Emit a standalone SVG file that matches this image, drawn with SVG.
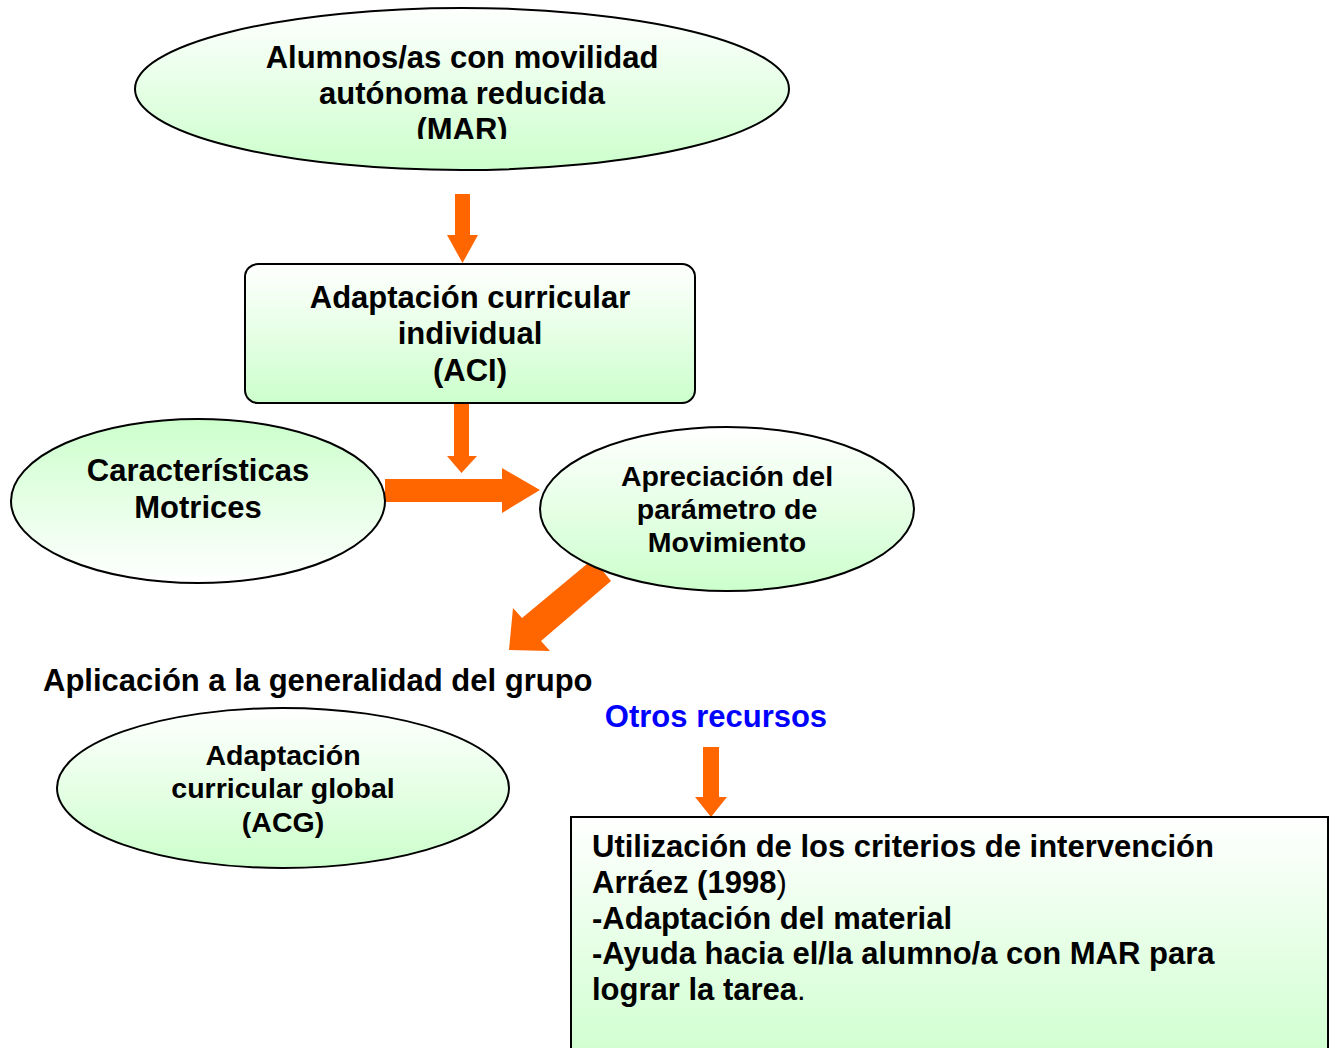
<svg xmlns="http://www.w3.org/2000/svg" width="1336" height="1048" viewBox="0 0 1336 1048">
<defs>
<linearGradient id="gDown" x1="0" y1="0" x2="0" y2="1"><stop offset="0" stop-color="#ffffff"/><stop offset="1" stop-color="#ccffcc"/></linearGradient>
<linearGradient id="gUp" x1="0" y1="0" x2="0" y2="1"><stop offset="0" stop-color="#ccffcc"/><stop offset="1" stop-color="#ffffff"/></linearGradient>
<clipPath id="clipTop"><rect x="130" y="0" width="670" height="139"/></clipPath>
</defs>
<style>
.shape{stroke:#000;stroke-width:2}
.t{font-family:"Liberation Sans",Arial,sans-serif;font-weight:bold;fill:#000}
.c{text-anchor:middle}
.big{font-size:31px}
.mid{font-size:28.5px}
.arrow{fill:#ff6600}
</style>
<rect width="1336" height="1048" fill="#fff"/>
<g id="connectors">
<polygon class="arrow" points="455,194 470,194 470,235 478,235 462.5,263 447,235 455,235"/>
<polygon class="arrow" points="454,404 469,404 469,456 477,456 461.5,473 447,456 454,456"/>
<polygon class="arrow" points="385,479 502,479 502,468 540,490 502,513 502,502 385,502"/>
<polygon class="arrow" points="593,559 522,618 513,608 509,650 550,651 541,641 611,581"/>
<polygon class="arrow" points="703,747 719,747 719,797 727,797 711,817 695,797 703,797"/>
</g>
<g id="node-mar">
<ellipse class="shape" cx="462" cy="89" rx="327" ry="81" fill="url(#gDown)"/>
<g clip-path="url(#clipTop)">
<text class="t c big" x="462" y="68">Alumnos/as con movilidad</text>
<text class="t c big" x="462" y="104">autónoma reducida</text>
<text class="t c big" x="462" y="140">(MAR)</text>
</g>
</g>
<g id="node-aci">
<rect class="shape" x="245" y="264" width="450" height="139" rx="13" fill="url(#gDown)"/>
<text class="t c big" x="470" y="308">Adaptación curricular</text>
<text class="t c big" x="470" y="344">individual</text>
<text class="t c big" x="470" y="381">(ACI)</text>
</g>
<g id="node-caracteristicas">
<ellipse class="shape" cx="198" cy="501" rx="187" ry="82" fill="url(#gUp)"/>
<text class="t c big" x="198" y="481">Características</text>
<text class="t c big" x="198" y="518">Motrices</text>
</g>
<g id="node-apreciacion">
<ellipse class="shape" cx="727" cy="509" rx="187" ry="82" fill="url(#gDown)"/>
<text class="t c mid" x="727" y="486">Apreciación del</text>
<text class="t c mid" x="727" y="519">parámetro de</text>
<text class="t c mid" x="727" y="552">Movimiento</text>
</g>
<g id="node-aplicacion">
<text class="t big" x="43" y="691">Aplicación a la generalidad del grupo</text>
</g>
<g id="node-otros">
<text class="t c big" x="716" y="727" style="fill:#0000ff">Otros recursos</text>
</g>
<g id="node-acg">
<ellipse class="shape" cx="283" cy="788" rx="226" ry="80" fill="url(#gDown)"/>
<text class="t c mid" x="283" y="765">Adaptación</text>
<text class="t c mid" x="283" y="798">curricular global</text>
<text class="t c mid" x="283" y="832">(ACG)</text>
</g>
<g id="node-criterios">
<rect class="shape" x="571" y="817" width="757" height="260" fill="url(#gDown)"/>
<text class="t big" x="592" y="857">Utilización de los criterios de intervención</text>
<text class="t big" x="592" y="893">Arráez (1998<tspan font-weight="normal">)</tspan></text>
<text class="t big" x="592" y="929">-Adaptación del material</text>
<text class="t big" x="592" y="964">-Ayuda hacia el/la alumno/a con MAR para</text>
<text class="t big" x="592" y="1000">lograr la tarea<tspan font-weight="normal">.</tspan></text>
</g>
</svg>
